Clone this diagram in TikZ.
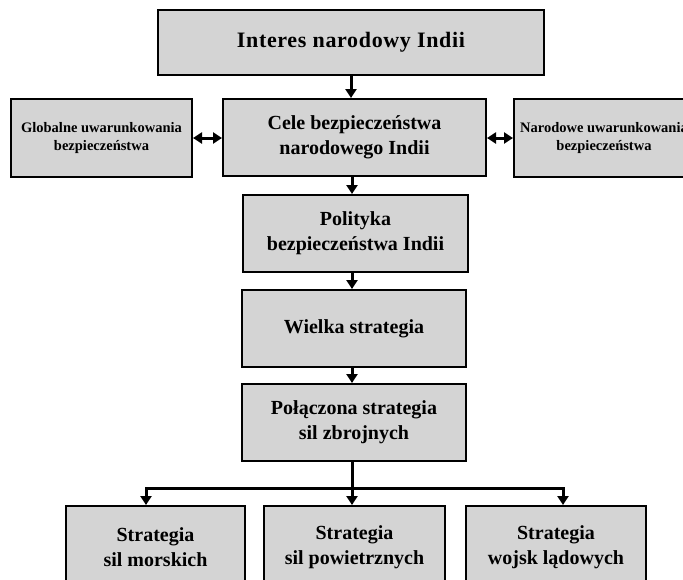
\documentclass[tikz,border=0pt]{standalone}
\usepackage{fontspec}
\setmainfont{Liberation Serif}
\newfontfamily\spacedserif{Liberation Serif}[LetterSpace=3]
\usetikzlibrary{arrows.meta}
\definecolor{boxgray}{RGB}{212,212,212}
\begin{document}
\begin{tikzpicture}[x=1pt,y=-1pt,
  box/.style={draw=black, line width=2pt, fill=boxgray, inner sep=0pt, align=center,
    font=\bfseries\fontsize{20}{25}\selectfont},
  smalltext/.style={font=\bfseries\fontsize{14.5}{18}\selectfont},
  arr/.style={-{Triangle[length=9pt,width=11pt]}, line width=3pt},
  dbl/.style={{Triangle[length=9pt,width=11pt]}-{Triangle[length=9pt,width=11pt]}, line width=3pt}]
\useasboundingbox (0,0) rectangle (683,579);
\fill[white] (0,0) rectangle (683,579);
\begin{scope}
\clip (0,0) rectangle (683,579);
\node[box, minimum width=386pt, minimum height=65pt, font=\spacedserif\bfseries\fontsize{22}{25}\selectfont] (top) at (351,42.5) {Interes narodowy Indii};
\node[box, minimum width=263pt, minimum height=77pt] (cele) at (354.5,137.5) {Cele bezpieczeństwa\\narodowego Indii};
\node[box, smalltext, minimum width=181pt, minimum height=78pt] (glob) at (101.5,138) {Globalne uwarunkowania\\bezpieczeństwa};
\node[box, smalltext, minimum width=180pt, minimum height=78pt] (nar) at (604,138) {Narodowe uwarunkowania\\bezpieczeństwa};
\node[box, minimum width=225pt, minimum height=77pt] (pol) at (355.5,233.5) {Polityka\\bezpieczeństwa Indii};
\node[box, minimum width=224pt, minimum height=77pt] (wiel) at (354,328.5) {Wielka strategia};
\node[box, minimum width=224pt, minimum height=77pt] (polacz) at (354,422.5) {Połączona strategia\\sil zbrojnych};
\node[box, minimum width=179pt, minimum height=82pt] (sm) at (155.5,547) {Strategia\\sil morskich};
\node[box, minimum width=181pt, minimum height=82pt] (sp) at (354.5,547) {Strategia\\sil powietrznych};
\node[box, minimum width=180pt, minimum height=82pt] (wl) at (556,547) {Strategia\\wojsk lądowych};
\end{scope}
\coordinate (cx) at (352,0);
\coordinate (bus) at (352,488);
\coordinate (lx) at (146,488);
\coordinate (rx) at (563,488);
\draw[arr] (top.south) -- (top.south |- cele.north);
\draw[arr] (cx |- cele.south) -- (cx |- pol.north);
\draw[arr] (cx |- pol.south) -- (cx |- wiel.north);
\draw[arr] (cx |- wiel.south) -- (cx |- polacz.north);
\draw[dbl] (glob.east) -- (glob.east -| cele.west);
\draw[dbl] (cele.east |- nar.west) -- (nar.west);
\draw[line width=3pt] (cx |- polacz.south) -- (bus);
\draw[line width=3pt, line cap=rect] (lx) -- (rx);
\draw[arr] (lx) -- (lx |- sm.north);
\draw[arr] (bus) -- (bus |- sp.north);
\draw[arr] (rx) -- (rx |- wl.north);
\end{tikzpicture}
\end{document}
